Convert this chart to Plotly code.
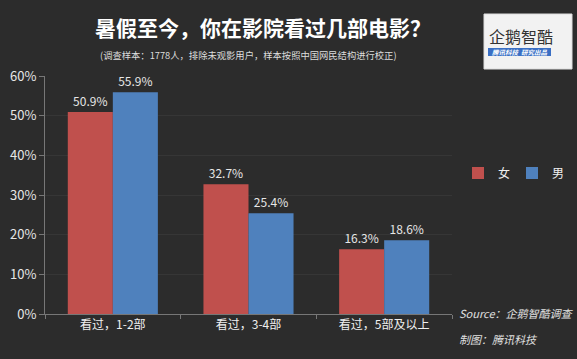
import plotly.graph_objects as go

categories = ["看过，1-2部", "看过，3-4部", "看过，5部及以上"]
female = [50.9, 32.7, 16.3]
male = [55.9, 25.4, 18.6]
tick_vals = [0, 10, 20, 30, 40, 50, 60]
tick_text = ["0%", "10%", "20%", "30%", "40%", "50%", "60%"]

FONT = "Noto Sans CJK SC"
W, H = 577, 359
L, R, T, B = 45, 125, 76, 45
PW, PH = W - L - R, H - T - B


def px(x):
    return (x - L) / PW


def py(y):
    return (H - B - y) / PH


fig = go.Figure()
fig.add_trace(go.Bar(
    name="女", x=categories, y=female, marker_color="#c0504d", marker_line_width=0,
    text=[f"{v:.1f}%" for v in female], textposition="outside",
    textfont=dict(color="#e6e6e6", size=12, family=FONT), cliponaxis=False,
))
fig.add_trace(go.Bar(
    name="男", x=categories, y=male, marker_color="#4f81bd", marker_line_width=0,
    text=[f"{v:.1f}%" for v in male], textposition="outside",
    textfont=dict(color="#e6e6e6", size=12, family=FONT), cliponaxis=False,
))

fig.update_layout(
    width=W, height=H,
    margin=dict(l=L, r=R, t=T, b=B, autoexpand=False),
    paper_bgcolor="#2c2c2c", plot_bgcolor="#2c2c2c",
    barmode="group", bargap=0.336, bargroupgap=0,
    font=dict(family=FONT, color="#e6e6e6"),
    showlegend=True,
    legend=dict(xref="container", yref="container", x=458 / W, y=(H - 173) / H,
                xanchor="left", yanchor="middle", orientation="h",
                font=dict(size=12, color="#f0f0f0"), bgcolor="rgba(0,0,0,0)",
                entrywidth=9, entrywidthmode="pixels", traceorder="normal"),
    xaxis=dict(showline=True, linecolor="#777", linewidth=1, ticks="outside",
               tickson="boundaries", tickcolor="#777", ticklen=4,
               tickfont=dict(size=12, color="#f0f0f0"), showgrid=False),
    yaxis=dict(range=[0, 60], tickvals=tick_vals, ticktext=tick_text,
               showline=True, linecolor="#777", linewidth=1, ticks="outside",
               tickcolor="#777", ticklen=5, gridcolor="#363636",
               tickfont=dict(size=13, color="#e6e6e6"), zeroline=False),
)

# Title and subtitle
fig.add_annotation(text="<b>暑假至今，你在影院看过几部电影？</b>", xref="paper", yref="paper",
                   x=px(263), y=py(27), showarrow=False,
                   font=dict(size=21, color="#ffffff", family=FONT),
                   xanchor="center", yanchor="middle")
fig.add_annotation(text="(调查样本：1778人，排除未观影用户，样本按照中国网民结构进行校正)",
                   xref="paper", yref="paper", x=px(248), y=py(55), showarrow=False,
                   font=dict(size=9.3, color="#dddddd", family=FONT),
                   xanchor="center", yanchor="middle")

# Source
fig.add_annotation(text="<i>Source：企鹅智酷调查</i>", xref="paper", yref="paper",
                   x=px(457), y=py(313), showarrow=False,
                   font=dict(size=11, color="#e0e0e0", family=FONT), xanchor="left", yanchor="middle")
fig.add_annotation(text="<i>制图：腾讯科技</i>", xref="paper", yref="paper",
                   x=px(457), y=py(339), showarrow=False,
                   font=dict(size=11, color="#e0e0e0", family=FONT), xanchor="left", yanchor="middle")

# Logo
fig.add_shape(type="rect", xref="paper", yref="paper",
              x0=px(484), x1=px(572), y0=py(69), y1=py(14),
              fillcolor="#f2f2f2", line=dict(color="#dddddd", width=1), layer="above")
fig.add_shape(type="rect", xref="paper", yref="paper",
              x0=px(488), x1=px(551), y0=py(56), y1=py(48),
              fillcolor="#3a6fc4", line=dict(width=0), layer="above")
fig.add_annotation(text="企鹅智酷", xref="paper", yref="paper",
                   x=px(521), y=py(36), showarrow=False,
                   font=dict(size=16, color="#333333", family=FONT), xanchor="center", yanchor="middle")
fig.add_annotation(text="<i><b>腾讯科技  研究出品</b></i>", xref="paper", yref="paper",
                   x=px(519.5), y=py(52), showarrow=False,
                   font=dict(size=6.5, color="#ffffff", family=FONT), xanchor="center", yanchor="middle")

fig.write_html("out.html", config={"displayModeBar": False},
               post_script="document.body.style.margin='0';document.body.style.background='#2c2c2c';")
